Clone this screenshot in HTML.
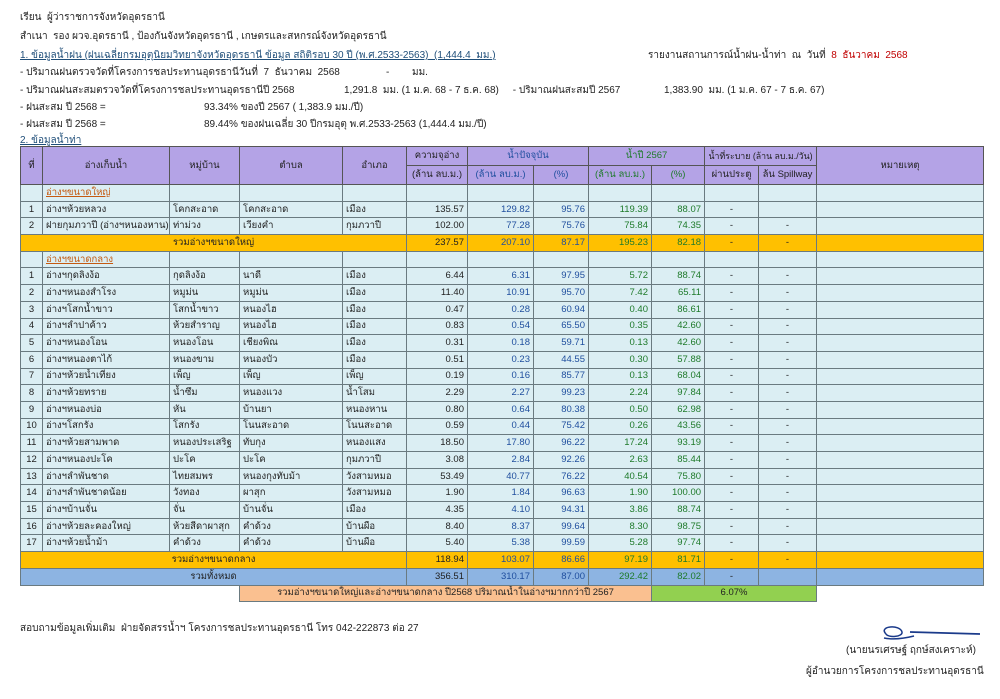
<!DOCTYPE html>
<html><head><meta charset="utf-8">
<style>
body{margin:0;width:1000px;height:699px;background:#fff;font-family:"Liberation Sans","Noto Sans CJK SC","WenQuanYi Zen Hei",sans-serif;color:#222;position:relative;overflow:hidden}
.t{position:absolute;font-size:10px;white-space:nowrap;line-height:12px}
.u{text-decoration:underline}
table{position:absolute;left:20px;top:146px;width:963px;border-collapse:collapse;table-layout:fixed;font-size:9.5px}
td{border:1px solid #6a7a80;padding:0 3px;overflow:hidden;white-space:nowrap;height:15.7px;line-height:12px;background:#dbeef3}
thead td{background:#b4a3e6;text-align:center;height:18px;border-color:#555}
.r{text-align:right}.c{text-align:center}
.b{color:#1f4e9e}.g{color:#1e7a2a}
tr.o td{background:#ffc000}
tr.s td{background:#8db4e2}
.sec{color:#c55a11;text-decoration:underline}
</style></head><body>
<div class="t" style="left:20px;top:12px">เรียน&nbsp; ผู้ว่าราชการจังหวัดอุดรธานี</div>
<div class="t" style="left:20px;top:31px">สำเนา&nbsp; รอง ผวจ.อุดรธานี , ป้องกันจังหวัดอุดรธานี , เกษตรและสหกรณ์จังหวัดอุดรธานี</div>
<div class="t u" style="left:20px;top:50px;color:#1f4e79">1. ข้อมูลน้ำฝน (ฝนเฉลี่ยกรมอุตุนิยมวิทยาจังหวัดอุดรธานี ข้อมูล สถิติรอบ 30 ปี (พ.ศ.2533-2563)&nbsp; (1,444.4&nbsp; มม.)</div>
<div class="t" style="left:648px;top:50px">รายงานสถานการณ์น้ำฝน-น้ำท่า&nbsp; ณ&nbsp; วันที่&nbsp; <span style="color:#c00000">8&nbsp; ธันวาคม&nbsp; 2568</span></div>
<div class="t" style="left:20px;top:67px">- ปริมาณฝนตรวจวัดที่โครงการชลประทานอุดรธานีวันที่&nbsp; 7&nbsp; ธันวาคม&nbsp; 2568</div>
<div class="t" style="left:386px;top:67px">-</div><div class="t" style="left:412px;top:67px">มม.</div>
<div class="t" style="left:20px;top:85px">- ปริมาณฝนสะสมตรวจวัดที่โครงการชลประทานอุดรธานีปี 2568</div>
<div class="t" style="left:344px;top:85px">1,291.8&nbsp; มม. (1 ม.ค. 68 - 7 ธ.ค. 68)&nbsp;&nbsp;&nbsp;&nbsp; - ปริมาณฝนสะสมปี 2567</div>
<div class="t" style="left:664px;top:85px">1,383.90&nbsp; มม. (1 ม.ค. 67 - 7 ธ.ค. 67)</div>
<div class="t" style="left:20px;top:102px">- ฝนสะสม ปี 2568 =</div>
<div class="t" style="left:204px;top:102px">93.34% ของปี 2567 ( 1,383.9 มม./ปี)</div>
<div class="t" style="left:20px;top:119px">- ฝนสะสม ปี 2568 =</div>
<div class="t" style="left:204px;top:119px">89.44% ของฝนเฉลี่ย 30 ปีกรมอุตุ พ.ศ.2533-2563 (1,444.4 มม./ปี)</div>
<div class="t u" style="left:20px;top:135px;color:#1f4e79">2. ข้อมูลน้ำท่า</div>

<table>
<colgroup><col style="width:22px"><col style="width:127px"><col style="width:70px"><col style="width:103px"><col style="width:64px"><col style="width:61px"><col style="width:66px"><col style="width:55px"><col style="width:63px"><col style="width:53px"><col style="width:54px"><col style="width:58px"><col style="width:167px"></colgroup>
<thead>
<tr><td rowspan="2">ที่</td><td rowspan="2">อ่างเก็บน้ำ</td><td rowspan="2">หมู่บ้าน</td><td rowspan="2">ตำบล</td><td rowspan="2">อำเภอ</td><td>ความจุอ่าง</td><td colspan="2" class="b">น้ำปัจจุบัน</td><td colspan="2" class="g">น้ำปี 2567</td><td colspan="2" style="padding:0;font-size:8.8px">น้ำที่ระบาย (ล้าน ลบ.ม./วัน)</td><td rowspan="2">หมายเหตุ</td></tr>
<tr><td>(ล้าน ลบ.ม.)</td><td class="b">(ล้าน ลบ.ม.)</td><td class="b">(%)</td><td class="g">(ล้าน ลบ.ม.)</td><td class="g">(%)</td><td>ผ่านประตู</td><td>ล้น Spillway</td></tr>
</thead>
<tbody>
<tr><td></td><td class="sec">อ่างฯขนาดใหญ่</td><td></td><td></td><td></td><td></td><td></td><td></td><td></td><td></td><td></td><td></td><td></td></tr>
<tr><td class="c">1</td><td>อ่างฯห้วยหลวง</td><td>โคกสะอาด</td><td>โคกสะอาด</td><td>เมือง</td><td class="r">135.57</td><td class="r b">129.82</td><td class="r b">95.76</td><td class="r g">119.39</td><td class="r g">88.07</td><td class="c">-</td><td></td><td></td></tr>
<tr><td class="c">2</td><td>ฝายกุมภวาปี (อ่างฯหนองหาน)</td><td>ท่าม่วง</td><td>เวียงคำ</td><td>กุมภวาปี</td><td class="r">102.00</td><td class="r b">77.28</td><td class="r b">75.76</td><td class="r g">75.84</td><td class="r g">74.35</td><td class="c">-</td><td class="c">-</td><td></td></tr>
<tr class="o"><td colspan="5" class="c">รวมอ่างฯขนาดใหญ่</td><td class="r">237.57</td><td class="r b">207.10</td><td class="r b">87.17</td><td class="r g">195.23</td><td class="r g">82.18</td><td class="c">-</td><td class="c">-</td><td></td></tr>
<tr><td></td><td class="sec">อ่างฯขนาดกลาง</td><td></td><td></td><td></td><td></td><td></td><td></td><td></td><td></td><td></td><td></td><td></td></tr>
<tr><td class="c">1</td><td>อ่างฯกุดลิงง้อ</td><td>กุดลิงง้อ</td><td>นาดี</td><td>เมือง</td><td class="r">6.44</td><td class="r b">6.31</td><td class="r b">97.95</td><td class="r g">5.72</td><td class="r g">88.74</td><td class="c">-</td><td class="c">-</td><td></td></tr>
<tr><td class="c">2</td><td>อ่างฯหนองสำโรง</td><td>หมูม่น</td><td>หมูม่น</td><td>เมือง</td><td class="r">11.40</td><td class="r b">10.91</td><td class="r b">95.70</td><td class="r g">7.42</td><td class="r g">65.11</td><td class="c">-</td><td class="c">-</td><td></td></tr>
<tr><td class="c">3</td><td>อ่างฯโสกน้ำขาว</td><td>โสกน้ำขาว</td><td>หนองไฮ</td><td>เมือง</td><td class="r">0.47</td><td class="r b">0.28</td><td class="r b">60.94</td><td class="r g">0.40</td><td class="r g">86.61</td><td class="c">-</td><td class="c">-</td><td></td></tr>
<tr><td class="c">4</td><td>อ่างฯลำปาค้าว</td><td>ห้วยสำราญ</td><td>หนองไฮ</td><td>เมือง</td><td class="r">0.83</td><td class="r b">0.54</td><td class="r b">65.50</td><td class="r g">0.35</td><td class="r g">42.60</td><td class="c">-</td><td class="c">-</td><td></td></tr>
<tr><td class="c">5</td><td>อ่างฯหนองโอน</td><td>หนองโอน</td><td>เชียงพิณ</td><td>เมือง</td><td class="r">0.31</td><td class="r b">0.18</td><td class="r b">59.71</td><td class="r g">0.13</td><td class="r g">42.60</td><td class="c">-</td><td class="c">-</td><td></td></tr>
<tr><td class="c">6</td><td>อ่างฯหนองตาไก้</td><td>หนองขาม</td><td>หนองบัว</td><td>เมือง</td><td class="r">0.51</td><td class="r b">0.23</td><td class="r b">44.55</td><td class="r g">0.30</td><td class="r g">57.88</td><td class="c">-</td><td class="c">-</td><td></td></tr>
<tr><td class="c">7</td><td>อ่างฯห้วยน้ำเที่ยง</td><td>เพ็ญ</td><td>เพ็ญ</td><td>เพ็ญ</td><td class="r">0.19</td><td class="r b">0.16</td><td class="r b">85.77</td><td class="r g">0.13</td><td class="r g">68.04</td><td class="c">-</td><td class="c">-</td><td></td></tr>
<tr><td class="c">8</td><td>อ่างฯห้วยทราย</td><td>น้ำซึม</td><td>หนองแวง</td><td>น้ำโสม</td><td class="r">2.29</td><td class="r b">2.27</td><td class="r b">99.23</td><td class="r g">2.24</td><td class="r g">97.84</td><td class="c">-</td><td class="c">-</td><td></td></tr>
<tr><td class="c">9</td><td>อ่างฯหนองบ่อ</td><td>หัน</td><td>บ้านยา</td><td>หนองหาน</td><td class="r">0.80</td><td class="r b">0.64</td><td class="r b">80.38</td><td class="r g">0.50</td><td class="r g">62.98</td><td class="c">-</td><td class="c">-</td><td></td></tr>
<tr><td class="c">10</td><td>อ่างฯโสกรัง</td><td>โสกรัง</td><td>โนนสะอาด</td><td>โนนสะอาด</td><td class="r">0.59</td><td class="r b">0.44</td><td class="r b">75.42</td><td class="r g">0.26</td><td class="r g">43.56</td><td class="c">-</td><td class="c">-</td><td></td></tr>
<tr><td class="c">11</td><td>อ่างฯห้วยสามพาด</td><td>หนองประเสริฐ</td><td>ทับกุง</td><td>หนองแสง</td><td class="r">18.50</td><td class="r b">17.80</td><td class="r b">96.22</td><td class="r g">17.24</td><td class="r g">93.19</td><td class="c">-</td><td class="c">-</td><td></td></tr>
<tr><td class="c">12</td><td>อ่างฯหนองปะโค</td><td>ปะโค</td><td>ปะโค</td><td>กุมภวาปี</td><td class="r">3.08</td><td class="r b">2.84</td><td class="r b">92.26</td><td class="r g">2.63</td><td class="r g">85.44</td><td class="c">-</td><td class="c">-</td><td></td></tr>
<tr><td class="c">13</td><td>อ่างฯลำพันชาด</td><td>ไทยสมพร</td><td>หนองกุงทับม้า</td><td>วังสามหมอ</td><td class="r">53.49</td><td class="r b">40.77</td><td class="r b">76.22</td><td class="r g">40.54</td><td class="r g">75.80</td><td class="c">-</td><td class="c">-</td><td></td></tr>
<tr><td class="c">14</td><td>อ่างฯลำพันชาดน้อย</td><td>วังทอง</td><td>ผาสุก</td><td>วังสามหมอ</td><td class="r">1.90</td><td class="r b">1.84</td><td class="r b">96.63</td><td class="r g">1.90</td><td class="r g">100.00</td><td class="c">-</td><td class="c">-</td><td></td></tr>
<tr><td class="c">15</td><td>อ่างฯบ้านจั่น</td><td>จั่น</td><td>บ้านจั่น</td><td>เมือง</td><td class="r">4.35</td><td class="r b">4.10</td><td class="r b">94.31</td><td class="r g">3.86</td><td class="r g">88.74</td><td class="c">-</td><td class="c">-</td><td></td></tr>
<tr><td class="c">16</td><td>อ่างฯห้วยละคองใหญ่</td><td>ห้วยสีดาผาสุก</td><td>คำด้วง</td><td>บ้านผือ</td><td class="r">8.40</td><td class="r b">8.37</td><td class="r b">99.64</td><td class="r g">8.30</td><td class="r g">98.75</td><td class="c">-</td><td class="c">-</td><td></td></tr>
<tr><td class="c">17</td><td>อ่างฯห้วยน้ำม้า</td><td>คำด้วง</td><td>คำด้วง</td><td>บ้านผือ</td><td class="r">5.40</td><td class="r b">5.38</td><td class="r b">99.59</td><td class="r g">5.28</td><td class="r g">97.74</td><td class="c">-</td><td class="c">-</td><td></td></tr>
<tr class="o"><td colspan="5" class="c">รวมอ่างฯขนาดกลาง</td><td class="r">118.94</td><td class="r b">103.07</td><td class="r b">86.66</td><td class="r g">97.19</td><td class="r g">81.71</td><td class="c">-</td><td class="c">-</td><td></td></tr>
<tr class="s"><td colspan="5" class="c">รวมทั้งหมด</td><td class="r">356.51</td><td class="r b">310.17</td><td class="r b">87.00</td><td class="r g">292.42</td><td class="r g">82.02</td><td class="c">-</td><td></td><td></td></tr>
<tr><td colspan="3" style="background:#fff;border:none;border-top:1px solid #6a7a80"></td><td colspan="6" class="c" style="background:#fac090">รวมอ่างฯขนาดใหญ่และอ่างฯขนาดกลาง ปี2568 ปริมาณน้ำในอ่างฯมากกว่าปี 2567</td><td colspan="3" class="c" style="background:#92d050">6.07%</td><td style="background:#fff;border:none;border-top:1px solid #6a7a80;border-left:1px solid #6a7a80"></td></tr>
</tbody></table>

<div class="t" style="left:20px;top:623px">สอบถามข้อมูลเพิ่มเติม&nbsp; ฝ่ายจัดสรรน้ำฯ โครงการชลประทานอุดรธานี โทร 042-222873 ต่อ 27</div>
<svg style="position:absolute;left:870px;top:622px" width="115" height="22"><path d="M16 12c-8-8 14-10 16-2c1 5-14 6-16 2" fill="none" stroke="#1a3a8a" stroke-width="1.5"/><path d="M14 16c10 2 22 0 30-2" fill="none" stroke="#1a3a8a" stroke-width="1.5"/><path d="M40 10l70 2" stroke="#1a3a8a" stroke-width="1.8"/></svg>
<div class="t" style="left:846px;top:645px">(นายนรเศรษฐ์ ฤกษ์สงเคราะห์)</div>
<div class="t" style="left:806px;top:666px">ผู้อำนวยการโครงการชลประทานอุดรธานี</div>
</body></html>
